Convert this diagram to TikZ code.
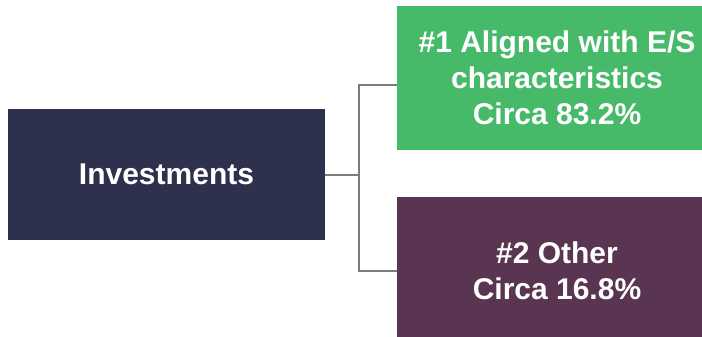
\documentclass[tikz,border=0pt]{standalone}
\usepackage{fontspec}
\setmainfont{Liberation Sans}
\usetikzlibrary{positioning,calc}
\definecolor{invnavy}{RGB}{46,49,77}
\definecolor{esgreen}{RGB}{71,186,106}
\definecolor{otherplum}{RGB}{89,53,82}
\definecolor{linkgray}{RGB}{125,125,120}

\begin{document}
\begin{tikzpicture}[
    x=1pt, y=-1pt,
    box/.style={rectangle, inner sep=0pt, align=center, text=white, font=\fontsize{30}{36}\selectfont\bfseries},
    link/.style={draw=linkgray, line width=2pt}
]

% Frame
\useasboundingbox (0,0) rectangle (702,337);
\clip (0,0) rectangle (702,337);

% Boxes
\node[box, fill=invnavy, minimum width=317pt, minimum height=131pt] (inv) at (166.5,174.5) {Investments};
\node[box, fill=esgreen, minimum width=320pt, minimum height=144pt] (aligned) at (557,78) {\#1 Aligned with E/S\\characteristics\\Circa 83.2\%};
\node[box, fill=otherplum, minimum width=320pt, minimum height=148pt] (other) at (557,271) {\#2 Other\\Circa 16.8\%};

% Connectors
\coordinate (split) at (359,174.5);
\draw[link] (inv.east) -- (split);
\draw[link] (split) |- ([yshift=-7pt]aligned.west);
\draw[link] (split) |- (other.west);

\end{tikzpicture}
\end{document}
